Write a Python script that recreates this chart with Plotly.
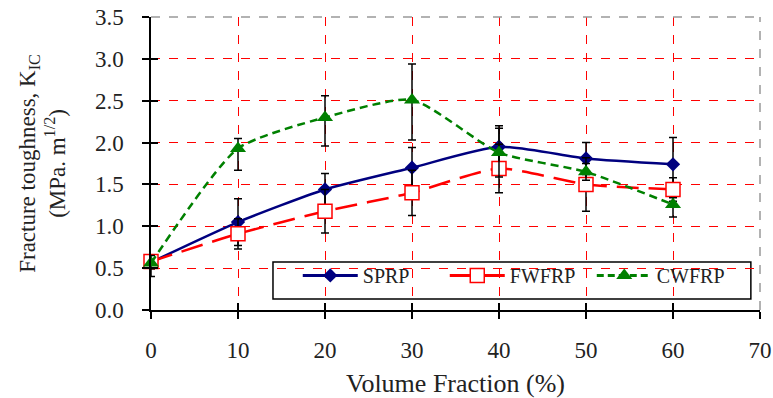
import plotly.graph_objects as go

volume_fraction = [0, 10, 20, 30, 40, 50, 60]

sprp = [0.57, 1.05, 1.44, 1.70, 1.95, 1.81, 1.74]
sprp_err = [0.08, 0.28, 0.19, 0.24, 0.25, 0.19, 0.32]

fwfrp = [0.58, 0.91, 1.18, 1.40, 1.69, 1.50, 1.44]
fwfrp_err = [0.08, 0.18, 0.26, 0.27, 0.29, 0.32, 0.14]

cwfrp = [0.56, 1.93, 2.30, 2.51, 1.88, 1.65, 1.26]
cwfrp_err_plus = [0.09, 0.12, 0.26, 0.43, 0.29, 0.10, 0.08]
cwfrp_err_minus = [0.16, 0.26, 0.34, 0.48, 0.29, 0.10, 0.15]

series_names = ["SPRP", "FWFRP", "CWFRP"]
x_ticks = [0, 10, 20, 30, 40, 50, 60, 70]
y_ticks = [0.0, 0.5, 1.0, 1.5, 2.0, 2.5, 3.0, 3.5]

FONT = "Liberation Serif"
err_style = dict(color="black", thickness=1.5, width=4)

BLUE, RED, GREEN = "#00007F", "#FF0000", "#008000"
sprp_marker = dict(symbol="diamond", size=11, color=BLUE)
fw_marker = dict(symbol="square", size=14, color="white", line=dict(color=RED, width=1.5))
cw_marker = dict(symbol="triangle-up", size=14, color=GREEN)

fig = go.Figure()

fig.add_trace(go.Scatter(
    x=volume_fraction, y=sprp, name=series_names[0], mode="lines+markers", showlegend=False,
    line=dict(color=BLUE, width=2.5, shape="spline", smoothing=0.6),
    marker=sprp_marker,
    error_y=dict(type="data", array=sprp_err, visible=True, **err_style),
    cliponaxis=False,
))
fig.add_trace(go.Scatter(
    x=volume_fraction, y=fwfrp, name=series_names[1], mode="lines+markers", showlegend=False,
    line=dict(color=RED, width=2.5, shape="spline", smoothing=0.6, dash="22px,10px"),
    marker=fw_marker,
    error_y=dict(type="data", array=fwfrp_err, visible=True, **err_style),
    cliponaxis=False,
))
fig.add_trace(go.Scatter(
    x=volume_fraction, y=cwfrp, name=series_names[2], mode="lines+markers", showlegend=False,
    line=dict(color=GREEN, width=2.5, shape="spline", smoothing=0.6, dash="8px,5px"),
    marker=cw_marker,
    error_y=dict(type="data", array=cwfrp_err_plus, arrayminus=cwfrp_err_minus,
                 symmetric=False, visible=True, **err_style),
    cliponaxis=False,
))

# legend entries (styled like the reference's legend keys)
fig.add_trace(go.Scatter(x=[None], y=[None], name=series_names[0], mode="lines+markers",
                         line=dict(color=BLUE, width=3), marker=sprp_marker))
fig.add_trace(go.Scatter(x=[None], y=[None], name=series_names[1], mode="lines+markers",
                         line=dict(color=RED, width=3), marker=fw_marker))
fig.add_trace(go.Scatter(x=[None], y=[None], name=series_names[2], mode="lines+markers",
                         line=dict(color=GREEN, width=3, dash="7px,4px"), marker=cw_marker))

# invisible trace for the inner-tick overlay axes
fig.add_trace(go.Scatter(x=[0], y=[0], xaxis="x2", yaxis="y2", mode="markers",
                         marker=dict(opacity=0), showlegend=False, hoverinfo="skip"))

grid = dict(showgrid=True, gridcolor="#FF0000", griddash="dash", gridwidth=1)

fig.update_layout(
    width=773, height=398,
    margin=dict(l=151, r=13, t=17, b=88),
    paper_bgcolor="white", plot_bgcolor="white",
    font=dict(family=FONT, size=23, color="#222222"),
    xaxis=dict(range=[0, 70], tickvals=x_ticks, ticktext=[str(v) for v in x_ticks],
               ticks="outside", ticklen=7, tickwidth=1.5, tickcolor="black",
               showline=True, linecolor="black", linewidth=1.5, zeroline=False,
               ticklabelstandoff=12, automargin=False, tickfont=dict(size=23),
               title=dict(text="Volume Fraction (%)", standoff=12, font=dict(size=26)),
               **grid),
    yaxis=dict(range=[0, 3.5], tickvals=y_ticks, ticktext=[f"{v:.1f}" for v in y_ticks],
               ticks="outside", ticklen=7, tickwidth=1.5, tickcolor="black",
               showline=True, linecolor="black", linewidth=1.5, zeroline=False,
               ticklabelstandoff=14, automargin=False, tickfont=dict(size=23),
               title=dict(text="Fracture toughness, K<sub>IC</sub><br>(MPa. m<sup>1/2</sup>)",
                          standoff=23, font=dict(size=23)),
               **grid),
    xaxis2=dict(range=[0, 70], overlaying="x", tickvals=x_ticks, ticks="inside", ticklen=7,
                tickwidth=1.5, tickcolor="black", showticklabels=False, showgrid=False,
                zeroline=False, showline=False, automargin=False),
    yaxis2=dict(range=[0, 3.5], overlaying="y", tickvals=y_ticks, ticks="inside", ticklen=7,
                tickwidth=1.5, tickcolor="black", showticklabels=False, showgrid=False,
                zeroline=False, showline=False, automargin=False),
    legend=dict(orientation="h", x=0.241, xanchor="left", y=0.118, yanchor="middle",
                bgcolor="rgba(0,0,0,0)", borderwidth=0,
                itemwidth=55, font=dict(size=20, family=FONT), entrywidth=77,
                tracegroupgap=0),
    shapes=[
        dict(type="rect", xref="paper", yref="paper", x0=0.2003, x1=0.985, y0=0.0375, y1=0.1638,
             fillcolor="white", line=dict(color="black", width=1.5), layer="between"),
        dict(type="line", xref="paper", yref="paper", x0=0, x1=1, y0=1, y1=1,
             line=dict(color="#999999", width=1.5, dash="dash"), layer="above"),
        dict(type="line", xref="paper", yref="paper", x0=1, x1=1, y0=0, y1=1,
             line=dict(color="#999999", width=1.5, dash="dash"), layer="above"),
    ],
)

fig.write_html(
    "out.html",
    config={"displayModeBar": False},
    post_script="document.body.style.margin='0';document.body.style.padding='0';",
)
